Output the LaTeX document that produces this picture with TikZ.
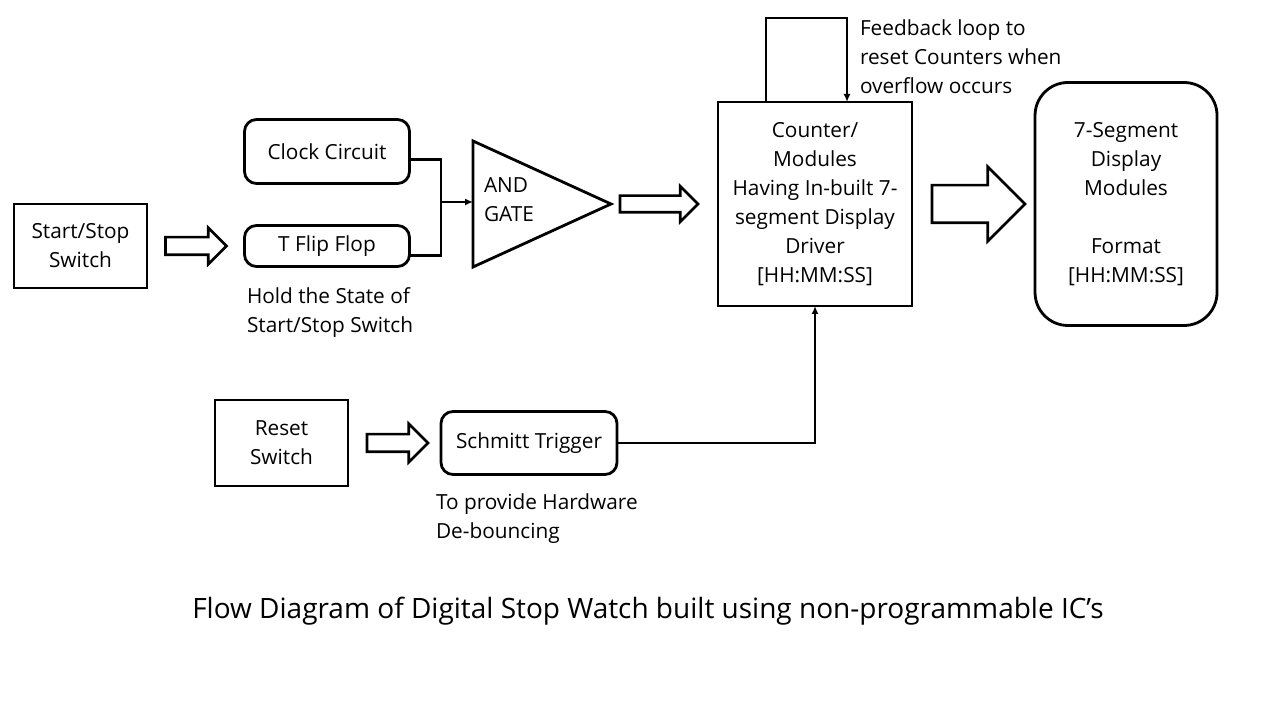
\documentclass[tikz,border=0pt]{standalone}
\usepackage{fontspec}
\setmainfont{Open Sans}
\usetikzlibrary{positioning,shapes.geometric,shapes.arrows,arrows.meta}

\begin{document}
\begin{tikzpicture}[x=1pt,y=1pt,>={Latex[length=8pt,width=7pt]},
    every node/.style={font=\fontsize{20.8pt}{29pt}\selectfont,outer sep=0pt},
    sqbox/.style={draw,line width=2.8pt,align=center,inner sep=0pt},
    rbox/.style={sqbox,rounded corners=12pt},
    harrow/.style={single arrow,draw,line width=2.6pt,fill=white,inner xsep=0pt,
      single arrow tip angle=90},
    wire/.style={line width=2.3pt},
    txt/.style={align=left,inner sep=0pt}]
    \useasboundingbox (0,0) rectangle (1280,720);

    % start/stop chain
    \node[sqbox,minimum width=133pt,minimum height=84pt] (sss) at (80.5,474) {Start/Stop\\Switch};
    \node[harrow,minimum height=61pt,inner ysep=7.5pt,single arrow head extend=9.5pt,right=18.5pt of sss] (arrA) {};
    \node[rbox,minimum width=165pt,minimum height=41pt,right=18pt of arrA] (tff) {T Flip Flop};
    \node[rbox,minimum width=165pt,minimum height=64pt,above=42pt of tff] (clk) {Clock Circuit};
    \node[txt,anchor=west] (hold) at (247,407.5) {Hold the State of\\Start/Stop Switch};

    % gate and counter
    \node[draw,line width=2.8pt,isosceles triangle,isosceles triangle stretches,
      minimum width=126pt,minimum height=138pt,inner sep=0pt,anchor=west] (andg) at (473,516) {};
    \node[txt,anchor=west] (andtxt) at ([xshift=11pt,yshift=4pt]andg.west) {AND\\GATE};
    \node[harrow,minimum height=78pt,inner ysep=7pt,single arrow head extend=9.5pt,right=9pt of andg] (arrB) {};
    \node[sqbox,minimum width=194pt,minimum height=204pt,right=20pt of arrB] (cnt)
      {Counter/\\Modules\\Having In-built 7-\\segment Display\\Driver\\{[HH:MM:SS]}};
    \node[harrow,minimum height=93pt,inner ysep=17.5pt,single arrow head extend=18.5pt,right=20pt of cnt] (arrC) {};
    \node[sqbox,rounded corners=33pt,minimum width=182pt,minimum height=243pt,right=10pt of arrC] (seg)
      {7-Segment\\Display\\Modules\\[29pt]Format\\{[HH:MM:SS]}};
    \node[txt,anchor=west] (fbtxt) at (860,663.5) {Feedback loop to\\reset Counters when\\overflow occurs};

    % reset chain
    \node[sqbox,minimum width=133pt,minimum height=86pt] (rst) at (281.5,277) {Reset\\Switch};
    \node[harrow,minimum height=61pt,inner ysep=7.5pt,single arrow head extend=10.5pt,right=19pt of rst] (arrD) {};
    \node[rbox,minimum width=176pt,minimum height=63pt,right=13pt of arrD] (smt) {Schmitt Trigger};
    \node[txt,anchor=west] (deb) at (436,201.5) {To provide Hardware\\De-bouncing};

    \node[font=\fontsize{28pt}{33pt}\selectfont] (cap) at (648,109)
      {Flow Diagram of Digital Stop Watch built using non-programmable IC’s};

    % wires
    \coordinate (jn) at (441,518);
    \draw[wire] ([yshift=-8pt]clk.east) -| (jn) |- ([yshift=-9.5pt]tff.east);
    \draw[wire,line width=2.8pt,->] (jn) -- (jn -| andg.west);
    \draw[wire,->] ([xshift=-49pt]cnt.north) -- ++(0,84) -| ([xshift=32pt]cnt.north);
    \draw[wire,->] (smt.east) -| (cnt.south);
\end{tikzpicture}
\end{document}
